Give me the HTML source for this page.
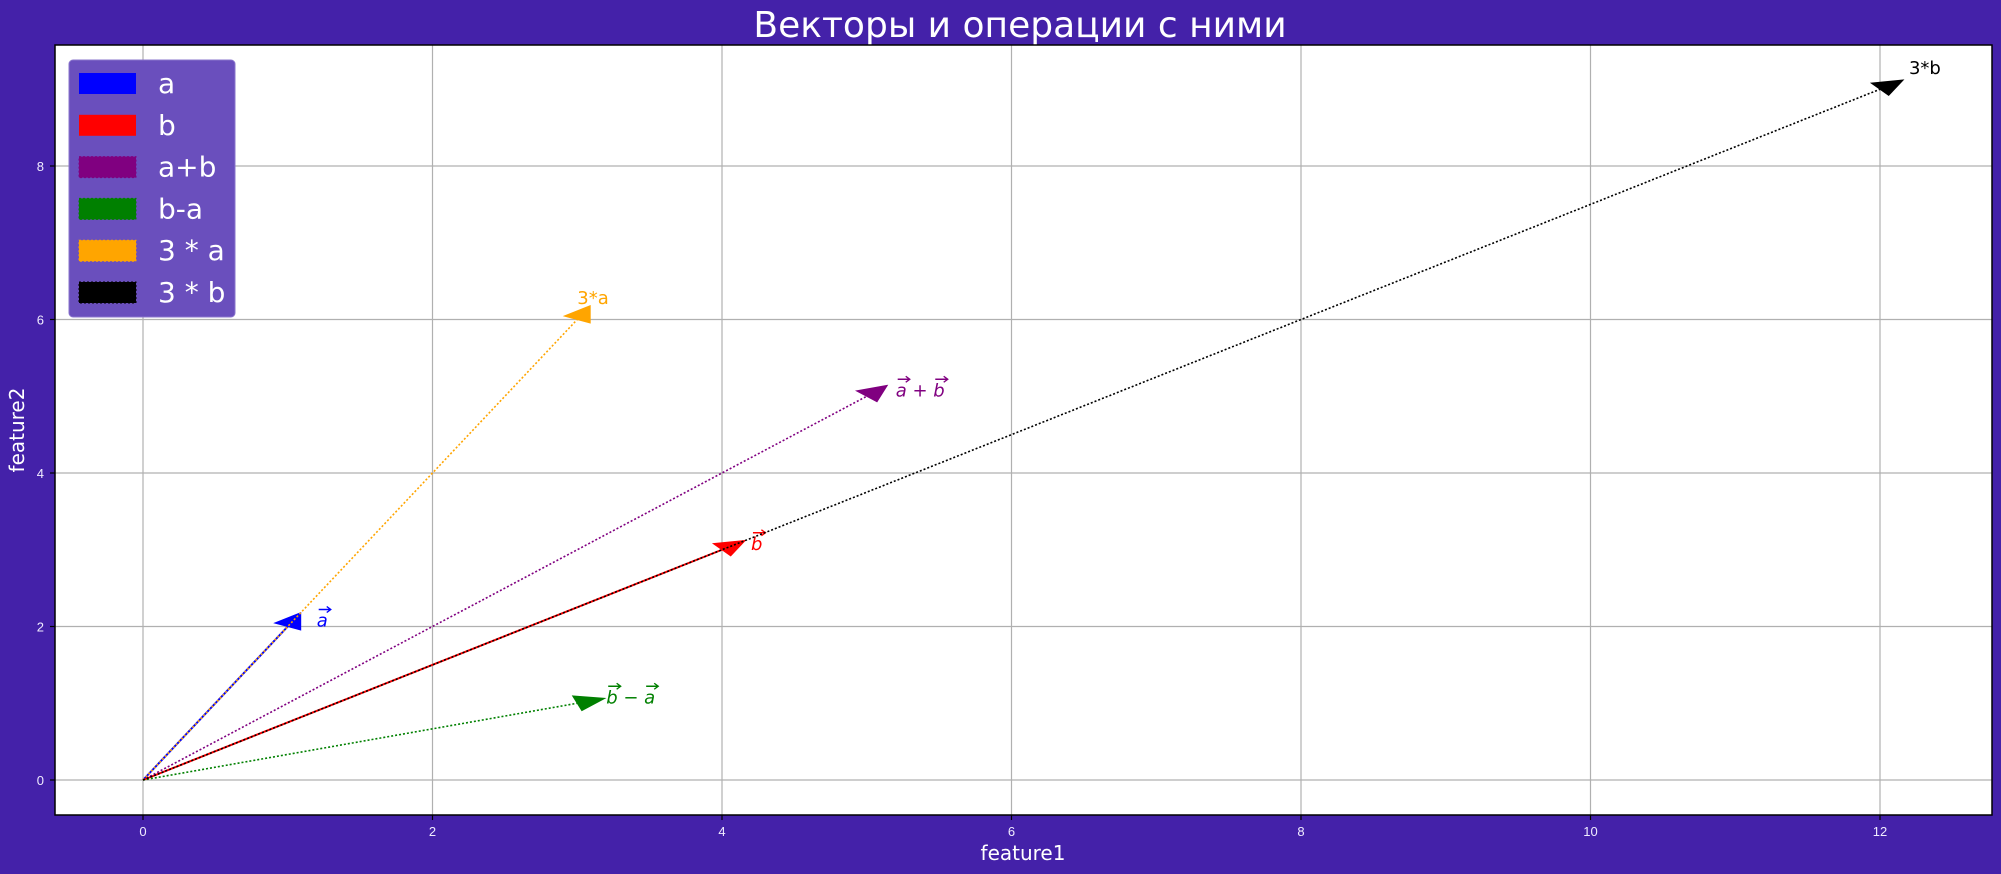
<!DOCTYPE html>
<html><head><meta charset="utf-8"><style>
html,body{margin:0;padding:0;background:#4421a9;}
svg{display:block;font-family:"Liberation Sans","DejaVu Sans",sans-serif;}
</style></head><body>
<svg id="chart" width="2001" height="874" viewBox="0 0 2001 874">
<rect x="0" y="0" width="2001" height="874" fill="#4421a9"/>
<text x="1020" y="37" text-anchor="middle" font-size="36" fill="#ffffff" font-family="DejaVu Sans, sans-serif">Векторы и операции с ними</text>
<rect x="55" y="45" width="1937" height="770" fill="#ffffff"/>
<g id="grid"></g>
<g id="vectors"></g>
<rect x="55" y="45" width="1937" height="770" fill="none" stroke="#000" stroke-width="1.5"/>
<g id="ticks"></g>
<text x="1023" y="860" text-anchor="middle" font-size="20" fill="#ffffff" font-family="DejaVu Sans, sans-serif">feature1</text>
<text x="24" y="430" text-anchor="middle" font-size="20" fill="#ffffff" font-family="DejaVu Sans, sans-serif" transform="rotate(-90 24 430)">feature2</text>
<g id="legend">
<rect x="69" y="60" width="166" height="257" rx="4" fill="#6a4fbd" stroke="#8a74cc" stroke-width="1"/>
</g>
</svg>
<script>
const names = ["a","b","a+b","b-a","3 * a","3 * b"];
const vx = [1, 4, 5, 3, 3, 12];
const vy = [2, 3, 5, 1, 6, 9];
const colors = ["#0000ff","#ff0000","#800080","#008000","#ffa500","#000000"];
const dashed = [false,false,true,true,true,true];
const labels = ["a","b","a + b","b − a","3*a","3*b"];
const xTicks = [0,2,4,6,8,10,12];
const yTicks = [0,2,4,6,8];
const NS="http://www.w3.org/2000/svg";
const X0=143, XU=144.75, Y0=780, YU=76.75;
const sx=v=>X0+v*XU, sy=v=>Y0-v*YU;
function mk(tag,attrs,parent){const e=document.createElementNS(NS,tag);for(const k in attrs)e.setAttribute(k,attrs[k]);parent.appendChild(e);return e;}
const grid=document.getElementById('grid'), ticks=document.getElementById('ticks'), vec=document.getElementById('vectors'), leg=document.getElementById('legend');
xTicks.forEach(t=>{
  const g=mk('line',{x1:sx(t),x2:sx(t),y1:45,y2:815,stroke:'#b0b0b0','stroke-width':1.2},grid);
  
  
  const tk=mk('line',{x1:sx(t),x2:sx(t),y1:815,y2:820,stroke:'#000','stroke-width':1.2},ticks);
  
  
  const tl=mk('text',{x:sx(t),y:836,'text-anchor':'middle','font-size':13,fill:'#f0ecff'},ticks);
  tl.textContent=t;
  
  
});
yTicks.forEach(t=>{
  const g=mk('line',{x1:55,x2:1992,y1:sy(t),y2:sy(t),stroke:'#b0b0b0','stroke-width':1.2},grid);
  
  
  const tk=mk('line',{x1:50,x2:55,y1:sy(t),y2:sy(t),stroke:'#000','stroke-width':1.2},ticks);
  
  
  const tl=mk('text',{x:44,y:sy(t)+5,'text-anchor':'end','font-size':13,fill:'#f0ecff'},ticks);
  tl.textContent=t;
  
  
});
const HL=0.2, HW=0.1;
names.forEach((n,i)=>{
  const x=vx[i], y=vy[i], L=Math.hypot(x,y), ux=x/L, uy=y/L;
  const line=mk('line',{x1:sx(0),y1:sy(0),x2:sx(x),y2:sy(y),stroke:colors[i],'stroke-width':dashed[i]?1.6:2,'stroke-dasharray':dashed[i]?'2,2':'none'},vec);
  
  
  const tip=[sx(x+HL*ux),sy(y+HL*uy)], c1=[sx(x-HW*uy),sy(y+HW*ux)], c2=[sx(x+HW*uy),sy(y-HW*ux)];
  const head=mk('polygon',{points:[tip,c1,c2].map(p=>p.join(',')).join(' '),fill:colors[i],stroke:colors[i],'stroke-width':1},vec);
  
  
  const bx=sx(x+(i===4?0:0.2)), by=sy(y+(i>=4?0.2:0));
  const lbl=mk('text',{x:bx,y:by,'font-size':18,fill:colors[i],'font-family':'DejaVu Sans, sans-serif','font-style':i<4?'italic':'normal'},vec);
  lbl.textContent=labels[i];
  
  
  if(i<4){
    labels[i].split('').forEach((ch,k)=>{
      if(!/[ab]/.test(ch)) return;
      const pre=lbl.getSubStringLength(0,k), w=lbl.getSubStringLength(k,1);
      const ax=bx+pre+2, ay=by-17;
      const ar=mk('path',{d:`M${ax} ${ay}H${ax+w+1}M${ax+w-3} ${ay-3}L${ax+w+1} ${ay}L${ax+w-3} ${ay+3}`,stroke:colors[i],'stroke-width':1.4,fill:'none'},vec);
      
      
    });
  }
  const cy=83+i*41.8;
  const p=mk('rect',{x:79,y:cy-10,width:57,height:21,fill:colors[i],stroke:dashed[i]?colors[i]:'none','stroke-dasharray':'2,2'},leg);
  
  
  const t=mk('text',{x:158,y:cy+10,'font-size':28,fill:'#ffffff','font-family':'DejaVu Sans, sans-serif'},leg);
  t.textContent=n;
  
  
});
</script>
</body></html>
